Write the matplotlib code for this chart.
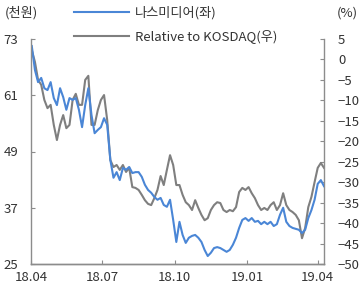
import numpy as np
import pandas as pd
import matplotlib
matplotlib.use("Agg")
import matplotlib.pyplot as plt
import matplotlib.dates as mdates

plt.rcParams['font.family'] = ['Noto Sans CJK KR', 'DejaVu Sans']

# 4일 간격 샘플 (2018-04-02 ~ 2019-04-09)
dates = pd.date_range('2018-04-02', periods=94, freq='4D')

# 나스미디어 주가 (천원, 좌축)
price = [71.5, 66.4, 63.8, 64.7, 62.5, 62.1, 63.8, 60.4, 58.9, 62.5,
         60.6, 57.9, 60.4, 60.0, 60.4, 57.9, 54.2, 58.9, 62.5, 56.8,
         52.9, 53.6, 54.2, 56.1, 54.7, 47.2, 43.4, 44.6, 42.9, 45.5,
         45.1, 45.7, 44.4, 44.6, 44.6, 43.6, 41.9, 40.8, 40.2, 39.3,
         38.7, 39.1, 37.6, 37.2, 38.7, 34.4, 29.7, 34.0, 31.2, 29.5,
         30.6, 31.0, 31.2, 30.6, 29.7, 28.0, 26.7, 27.4, 28.4, 28.6,
         28.4, 28.0, 27.6, 28.0, 29.1, 30.6, 32.7, 34.4, 34.8, 34.2,
         34.8, 34.0, 34.2, 33.5, 34.0, 33.5, 34.0, 33.1, 33.5, 35.5,
         37.0, 34.0, 33.1, 32.7, 32.5, 32.3, 31.6, 32.3, 34.8, 36.5,
         38.7, 42.1, 42.9, 41.6]

# KOSDAQ 대비 상대수익률 (%, 우축)
relative = [2.3, -0.6, -5.0, -6.2, -9.9, -11.9, -11.1, -16.0, -19.7, -16.0,
            -13.6, -16.8, -16.0, -9.9, -8.4, -11.1, -11.1, -5.0, -4.0, -16.0,
            -16.0, -12.4, -9.9, -8.7, -14.8, -24.6, -26.3, -25.8, -27.0, -25.8,
            -27.5, -26.5, -31.2, -31.4, -31.9, -33.1, -34.4, -35.3, -35.6, -33.9,
            -31.9, -28.5, -30.7, -27.0, -23.4, -25.8, -30.7, -30.7, -33.1, -34.9,
            -35.6, -36.8, -34.4, -36.3, -38.0, -39.3, -38.8, -36.8, -35.6, -34.9,
            -35.1, -36.8, -37.3, -36.8, -37.1, -36.1, -32.4, -31.4, -31.9, -31.2,
            -32.7, -33.9, -35.6, -36.8, -36.3, -36.8, -35.6, -34.9, -36.8, -35.6,
            -32.7, -35.6, -36.8, -37.3, -38.0, -39.3, -43.7, -41.2, -36.1, -33.6,
            -30.0, -26.5, -25.3, -26.5]

left_ticks = [25, 37, 49, 61, 73]
right_ticks = [5, 0, -5, -10, -15, -20, -25, -30, -35, -40, -45, -50]

BLUE = '#4a86d6'
GRAY = '#7f7f7f'
SPINE = '#8c8c8c'
TXT = '#333333'

fig = plt.figure(figsize=(3.6, 2.86), dpi=100)
ax = fig.add_axes([31/360, 1 - 264/286, 293/360, 225/286])
ax2 = ax.twinx()

l1, = ax.plot(dates, price, color=BLUE, lw=1.5, label='나스미디어(좌)')
l2, = ax2.plot(dates, relative, color=GRAY, lw=1.5, label='Relative to KOSDAQ(우)')
ax.set_zorder(ax2.get_zorder() + 1)
ax.patch.set_visible(False)

ax.set_xlim(pd.Timestamp('2018-04-01'), pd.Timestamp('2019-04-09'))
ax.set_ylim(25, 73)
ax2.set_ylim(-50, 5)
ax.set_yticks(left_ticks)
ax2.set_yticks(right_ticks)

ax.xaxis.set_major_locator(mdates.MonthLocator(bymonth=[1, 4, 7, 10]))
ax.xaxis.set_major_formatter(mdates.DateFormatter('%y.%m'))

for a in (ax, ax2):
    a.spines['top'].set_visible(False)
    for s in ('left', 'right', 'bottom'):
        a.spines[s].set_color(SPINE)
        a.spines[s].set_linewidth(1.0)
    a.tick_params(direction='in', length=3, color=SPINE, labelsize=9.5,
                  labelcolor=TXT)
ax.spines['right'].set_visible(False)
ax2.spines['left'].set_visible(False)
ax.tick_params(axis='y', pad=9)
ax.tick_params(axis='x', pad=5)
ax2.tick_params(axis='y', pad=10)

fig.text(5/360, 1 - 13/286, '(천원)', fontsize=9.5, color=TXT, va='center', ha='left')
fig.text(337/360, 1 - 13/286, '(%)', fontsize=9.5, color=TXT, va='center', ha='left')

fig.legend(handles=[l1, l2], loc='upper left', bbox_to_anchor=(74/360, 1 - 6/286),
           frameon=False, fontsize=9.5, handlelength=4.2, handletextpad=0.4,
           labelspacing=0.75, borderpad=0, borderaxespad=0, labelcolor=TXT)

fig.savefig('out.png', dpi=100)
